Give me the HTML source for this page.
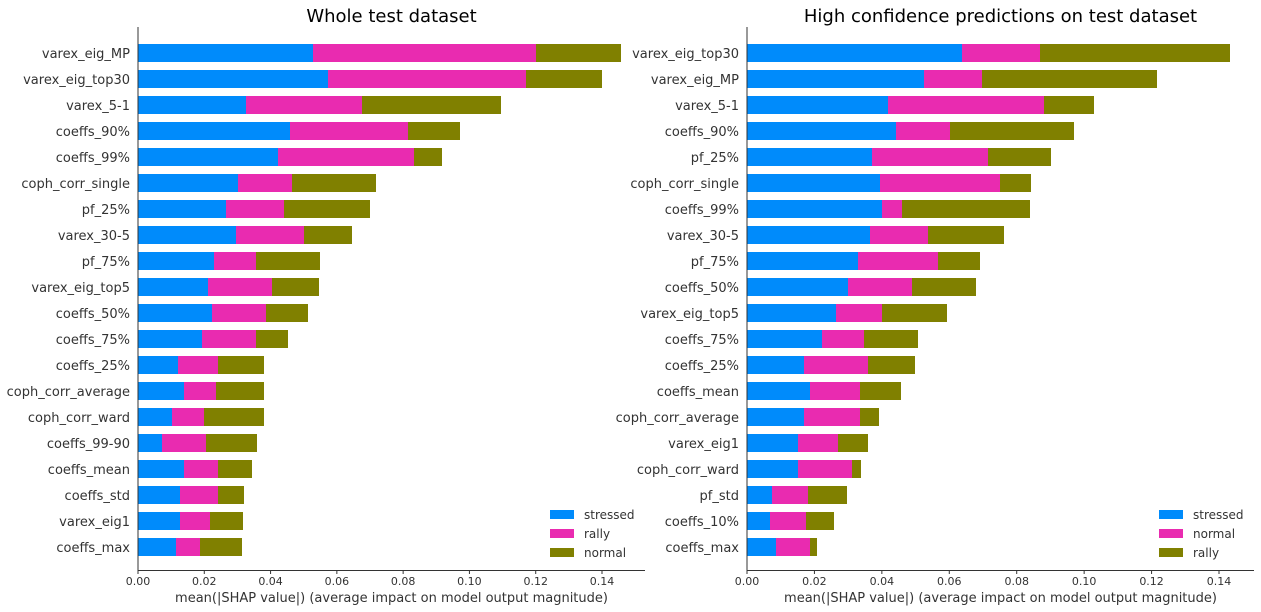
<!DOCTYPE html>
<html><head><meta charset="utf-8"><style>body{margin:0;background:#fff}svg{display:block;font-family:"DejaVu Sans","Liberation Sans",sans-serif}</style></head>
<body>
<svg width="1261" height="612" xmlns="http://www.w3.org/2000/svg" id="s"></svg>
<script>
const s=document.getElementById('s');
const C=['#008bfb','#e92bb0','#808000'];
function add(t,a,txt){const e=document.createElementNS('http://www.w3.org/2000/svg',t);for(const k in a)e.setAttribute(k,a[k]);if(txt!==undefined)e.textContent=txt;s.appendChild(e);return e;}
function panel(x0,x14,xr,title,rows,leg){
 const sc=(x14-x0)/7;
 add('text',{x:(x0+xr)/2,y:22,'text-anchor':'middle','font-size':18,fill:'#000'},title);
 rows.forEach((r,i)=>{const y=53+i*26;let px=x0;
  for(let j=0;j<3;j++){add('rect',{x:px,y:y-9,width:r[j+1]-px,height:18,fill:C[j]});px=r[j+1];}
  add('text',{x:x0-8,y:y+5,'text-anchor':'end','font-size':13,fill:'#333'},r[0]);});
 add('line',{x1:x0,y1:27,x2:x0,y2:571,stroke:'#333','stroke-width':1});
 add('line',{x1:x0,y1:570.5,x2:xr,y2:570.5,stroke:'#333','stroke-width':1});
 for(let k=0;k<=7;k++){const x=x0+k*sc;add('line',{x1:x,y1:570,x2:x,y2:574,stroke:'#333'});
  add('text',{x:x,y:585,'text-anchor':'middle','font-size':11,fill:'#333'},(k*0.02).toFixed(2));}
 add('text',{x:(x0+xr)/2,y:602,'text-anchor':'middle','font-size':13,fill:'#333'},'mean(|SHAP value|) (average impact on model output magnitude)');
 const lx=x0+412;
 leg.forEach((l,i)=>{add('rect',{x:lx,y:510+i*19,width:24,height:9,fill:C[i]});
  add('text',{x:lx+34,y:519+i*19,'font-size':12,fill:'#333'},l);});
}
panel(138,602,645,'Whole test dataset',[
['varex_eig_MP',313,536,621],['varex_eig_top30',328,526,602],['varex_5-1',246,362,501],['coeffs_90%',290,408,460],
['coeffs_99%',278,414,442],['coph_corr_single',238,292,376],['pf_25%',226,284,370],['varex_30-5',236,304,352],
['pf_75%',214,256,320],['varex_eig_top5',208,272,319],['coeffs_50%',212,266,308],['coeffs_75%',202,256,288],
['coeffs_25%',178,218,264],['coph_corr_average',184,216,264],['coph_corr_ward',172,204,264],['coeffs_99-90',162,206,257],
['coeffs_mean',184,218,252],['coeffs_std',180,218,244],['varex_eig1',180,210,243],['coeffs_max',176,200,242]],
['stressed','rally','normal']);
panel(747,1219,1254,'High confidence predictions on test dataset',[
['varex_eig_top30',962,1040,1230],['varex_eig_MP',924,982,1157],['varex_5-1',888,1044,1094],['coeffs_90%',896,950,1074],
['pf_25%',872,988,1051],['coph_corr_single',880,1000,1031],['coeffs_99%',882,902,1030],['varex_30-5',870,928,1004],
['pf_75%',858,938,980],['coeffs_50%',848,912,976],['varex_eig_top5',836,882,947],['coeffs_75%',822,864,918],
['coeffs_25%',804,868,915],['coeffs_mean',810,860,901],['coph_corr_average',804,860,879],['varex_eig1',798,838,868],
['coph_corr_ward',798,852,861],['pf_std',772,808,847],['coeffs_10%',770,806,834],['coeffs_max',776,810,817]],
['stressed','normal','rally']);
</script>
</body></html>
